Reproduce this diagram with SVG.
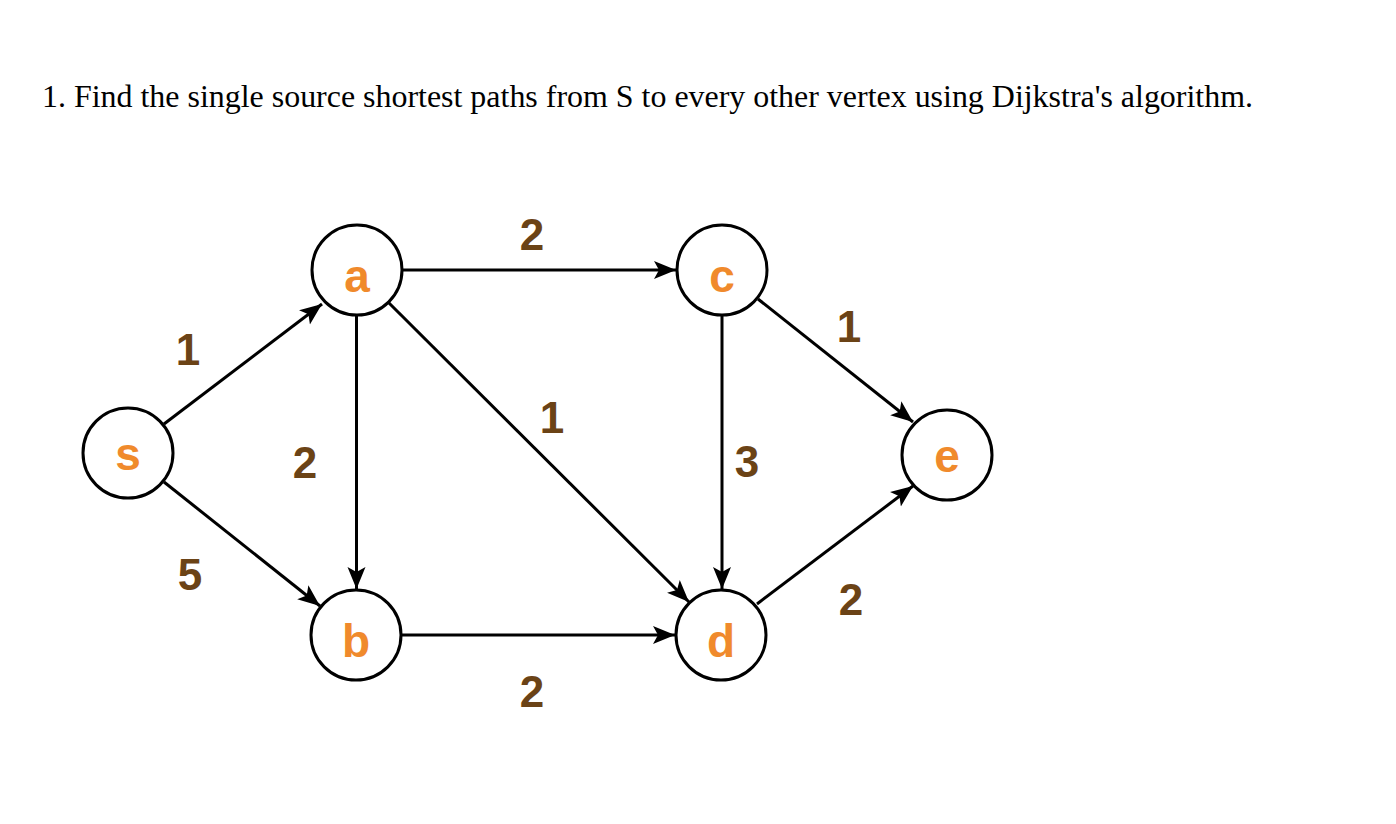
<svg xmlns="http://www.w3.org/2000/svg" width="1396" height="824" viewBox="0 0 1396 824">
<style>
.node circle{fill:#fff;stroke:#000;stroke-width:3}
.node text{font-family:"Liberation Sans",Arial,sans-serif;font-weight:bold;font-size:46px;fill:#f08a2c;text-anchor:middle}
.edge{stroke:#000;stroke-width:3;fill:none;marker-end:url(#arr)}
.lbl{font-family:"Liberation Sans",Arial,sans-serif;font-weight:bold;font-size:44px;fill:#6b4316;text-anchor:middle}
.title{font-family:"Liberation Serif","Times New Roman",serif;font-size:32px;fill:#000}
</style>
<defs>
<marker id="arr" markerUnits="userSpaceOnUse" markerWidth="24" markerHeight="20" refX="22" refY="10" orient="auto">
<path d="M0,1 L22,10 L0,19 L5,10 Z" fill="#000"/>
</marker>
</defs>
<rect width="1396" height="824" fill="#fff"/>
<text class="title" x="42" y="107" textLength="1211" lengthAdjust="spacingAndGlyphs">1. Find the single source shortest paths from S to every other vertex using Dijkstra's algorithm.</text>
<g id="connectors">
<line class="edge" x1="164" y1="424" x2="322" y2="304"/>
<line class="edge" x1="164" y1="482" x2="320" y2="606"/>
<line class="edge" x1="356.5" y1="316" x2="356.5" y2="589"/>
<line class="edge" x1="403" y1="270" x2="676" y2="270"/>
<line class="edge" x1="389" y1="303" x2="689" y2="602"/>
<line class="edge" x1="722" y1="316" x2="722" y2="589"/>
<line class="edge" x1="758" y1="299" x2="913" y2="422"/>
<line class="edge" x1="757" y1="604" x2="913" y2="486"/>
<line class="edge" x1="402" y1="635" x2="675" y2="635"/>
<text class="lbl" x="188" y="365">1</text>
<text class="lbl" x="190" y="590">5</text>
<text class="lbl" x="305" y="478">2</text>
<text class="lbl" x="532" y="250">2</text>
<text class="lbl" x="552" y="433">1</text>
<text class="lbl" x="747" y="477">3</text>
<text class="lbl" x="849" y="342">1</text>
<text class="lbl" x="851" y="615">2</text>
<text class="lbl" x="532" y="707">2</text>
</g>
<g id="node-s" class="node"><circle cx="128" cy="453" r="45"/><text x="128" y="470">s</text></g>
<g id="node-a" class="node"><circle cx="357" cy="270" r="45"/><text x="357" y="292">a</text></g>
<g id="node-b" class="node"><circle cx="356" cy="635" r="45"/><text x="356" y="657">b</text></g>
<g id="node-c" class="node"><circle cx="722" cy="270" r="45"/><text x="722" y="292">c</text></g>
<g id="node-d" class="node"><circle cx="721" cy="635" r="45"/><text x="721" y="657">d</text></g>
<g id="node-e" class="node"><circle cx="947" cy="455" r="45"/><text x="947" y="472">e</text></g>
</svg>
